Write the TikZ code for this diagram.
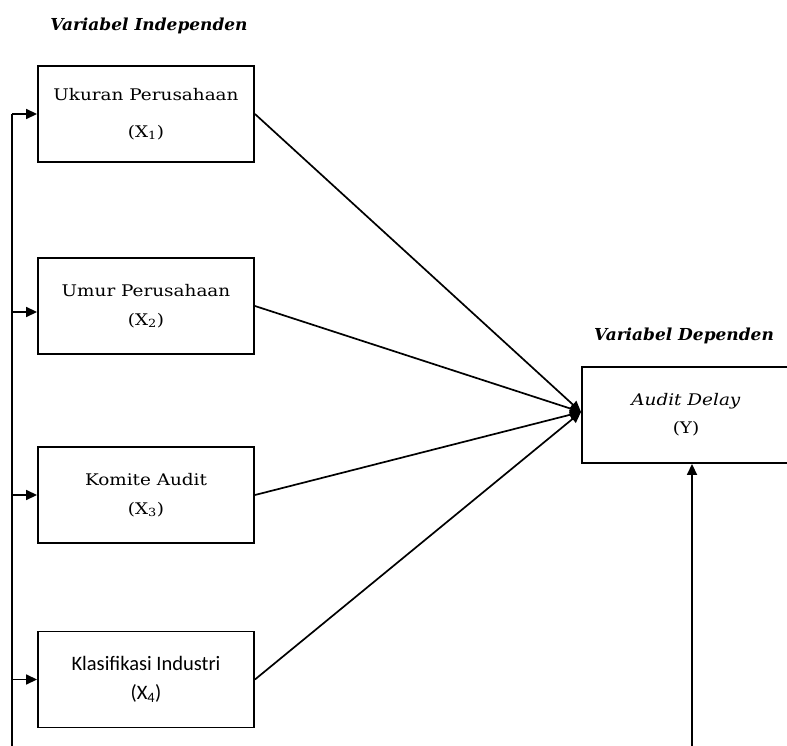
\documentclass[tikz,border=0pt]{standalone}
\usepackage{fontspec}
\setmainfont{DejaVu Serif}[FakeStretch=1.15]
\newfontfamily\headfont{DejaVu Serif}[FakeStretch=1.03]
\newfontfamily\boxsans{Carlito}
\usetikzlibrary{arrows.meta}
\begin{document}
\begin{tikzpicture}[x=1pt,y=-1pt,
  box/.style={draw, line width=1.9pt, minimum width=216pt, minimum height=96pt, inner sep=0pt, align=center},
  link/.style={line width=1.7pt, -{Triangle[length=11pt,width=10pt]}},
  wire/.style={line width=1.7pt},
  heading/.style={font=\headfont\fontsize{16.5}{20}\selectfont\bfseries\itshape, inner sep=0pt},
  serifbox/.style={font=\fontsize{16}{29}\selectfont}]
\useasboundingbox (0,0) rectangle (787,746);
% headings
\node[heading] (hind) at (149,26) {Variabel Independen};
\node[heading] (hdep) at (684,336) {Variabel Dependen};
% independent boxes
\node[box, font=\fontsize{16}{37}\selectfont] (x1) at (146,114) {Ukuran Perusahaan\\(X\textsubscript{1})};
\node[box, serifbox] (x2) at (146,306) {Umur Perusahaan\\(X\textsubscript{2})};
\node[box, serifbox] (x3) at (146,495) {Komite Audit\\(X\textsubscript{3})};
\node[box, font=\boxsans\fontsize{20.5}{29}\selectfont] (x4) at (146,679.5) {Klasifikasi Industri\\(X\textsubscript{4})};
% dependent box
\node[box, minimum width=208pt, font=\fontsize{16}{28}\selectfont] (y) at (686,415) {\textit{Audit Delay}\\(Y)};
% convergence point and free ends
\coordinate (yin) at (581,412);
\coordinate (spinetop) at (12,114);
\coordinate (spinebot) at (12,746);
\coordinate (upbot) at (692,746);
% arrows to Y
\draw[link] (x1.east) -- (yin);
\draw[link] (x2.east) -- (yin);
\draw[link] (x3.east) -- (yin);
\draw[link] (x4.east) -- (yin);
% left spine
\draw[wire] (spinebot) -- (spinetop);
\draw[link] (spinetop) -- (x1.west);
\draw[link] ([yshift=-6pt]x2.west -| spinetop) -- ([yshift=-6pt]x2.west);
\draw[link] (x3.west -| spinetop) -- (x3.west);
\draw[link] (x4.west -| spinetop) -- (x4.west);
% upward arrow into Y
\draw[link] (upbot) -- (upbot |- y.south);
\end{tikzpicture}
\end{document}
